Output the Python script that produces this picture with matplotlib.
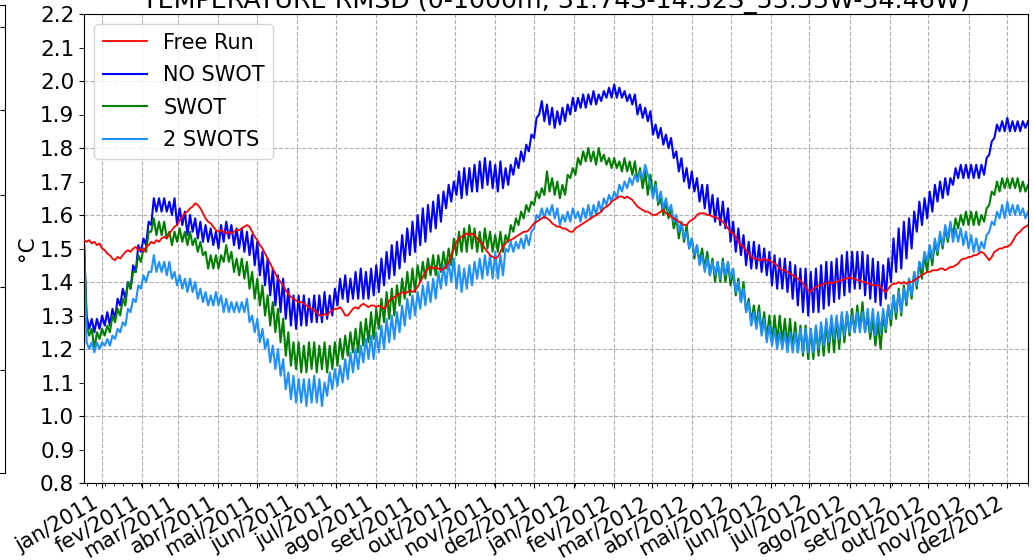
import matplotlib

matplotlib.use("Agg")
import matplotlib.pyplot as plt  # noqa: E402
import matplotlib.dates as mdates  # noqa: E402
import pandas as pd  # noqa: E402
from matplotlib.ticker import FormatStrFormatter, FuncFormatter, MultipleLocator  # noqa: E402

TITLE = "TEMPERATURE RMSD (0-1000m, 31.74S-14.32S_53.55W-34.46W)"
MONTHS_PT = ["jan", "fev", "mar", "abr", "mai", "jun", "jul", "ago", "set", "out", "nov", "dez"]

# values every 2 days starting 2010-12-18 (one line = 30 days)
free_run = [
    1.525, 1.52, 1.525, 1.515, 1.52, 1.51, 1.515, 1.50, 1.495, 1.485, 1.48, 1.47, 1.465, 1.475, 1.47,
    1.48, 1.49, 1.495, 1.49, 1.50, 1.505, 1.495, 1.50, 1.49, 1.505, 1.51, 1.52, 1.515, 1.525, 1.52,
    1.53, 1.535, 1.53, 1.545, 1.555, 1.565, 1.57, 1.585, 1.595, 1.605, 1.61, 1.62, 1.625, 1.635, 1.63,
    1.62, 1.605, 1.59, 1.58, 1.575, 1.565, 1.555, 1.55, 1.555, 1.55, 1.545, 1.55, 1.545, 1.55, 1.555,
    1.555, 1.56, 1.565, 1.57, 1.565, 1.55, 1.535, 1.525, 1.51, 1.50, 1.485, 1.47, 1.455, 1.44, 1.425,
    1.41, 1.40, 1.39, 1.375, 1.365, 1.355, 1.35, 1.345, 1.34, 1.34, 1.335, 1.33, 1.325, 1.32, 1.315,
    1.31, 1.30, 1.30, 1.305, 1.30, 1.31, 1.315, 1.32, 1.32, 1.325, 1.315, 1.30, 1.30, 1.31, 1.32,
    1.325, 1.32, 1.33, 1.335, 1.33, 1.325, 1.33, 1.33, 1.325, 1.33, 1.325, 1.32, 1.33, 1.345, 1.35,
    1.355, 1.36, 1.365, 1.37, 1.365, 1.37, 1.375, 1.37, 1.375, 1.385, 1.40, 1.415, 1.43, 1.44, 1.445,
    1.44, 1.445, 1.44, 1.435, 1.44, 1.445, 1.46, 1.48, 1.50, 1.52, 1.53, 1.535, 1.54, 1.545, 1.54,
    1.545, 1.54, 1.53, 1.52, 1.515, 1.50, 1.49, 1.48, 1.475, 1.47, 1.475, 1.49, 1.505, 1.515, 1.525,
    1.525, 1.53, 1.535, 1.54, 1.545, 1.55, 1.55, 1.555, 1.565, 1.575, 1.58, 1.585, 1.59, 1.595, 1.59,
    1.585, 1.575, 1.57, 1.565, 1.565, 1.56, 1.56, 1.555, 1.55, 1.55, 1.56, 1.565, 1.57, 1.575, 1.58,
    1.585, 1.59, 1.595, 1.60, 1.605, 1.61, 1.62, 1.625, 1.63, 1.64, 1.645, 1.65, 1.655, 1.655, 1.65,
    1.655, 1.65, 1.645, 1.635, 1.625, 1.62, 1.615, 1.61, 1.61, 1.605, 1.60, 1.60, 1.605, 1.61, 1.615,
    1.605, 1.60, 1.595, 1.59, 1.585, 1.58, 1.575, 1.57, 1.57, 1.58, 1.585, 1.59, 1.60, 1.605, 1.605,
    1.605, 1.60, 1.60, 1.595, 1.595, 1.59, 1.585, 1.58, 1.57, 1.56, 1.55, 1.545, 1.535, 1.52, 1.51,
    1.505, 1.495, 1.485, 1.475, 1.47, 1.47, 1.465, 1.465, 1.47, 1.465, 1.465, 1.46, 1.455, 1.45, 1.44,
    1.435, 1.435, 1.43, 1.425, 1.42, 1.415, 1.41, 1.405, 1.395, 1.385, 1.375, 1.37, 1.38, 1.385, 1.39,
    1.39, 1.395, 1.395, 1.40, 1.395, 1.40, 1.40, 1.405, 1.405, 1.41, 1.41, 1.415, 1.41, 1.41, 1.405,
    1.405, 1.40, 1.40, 1.395, 1.395, 1.39, 1.39, 1.39, 1.385, 1.375, 1.37, 1.38, 1.39, 1.395, 1.395,
    1.40, 1.395, 1.40, 1.395, 1.40, 1.40, 1.405, 1.41, 1.415, 1.42, 1.425, 1.43, 1.43, 1.435, 1.435,
    1.435, 1.44, 1.44, 1.435, 1.44, 1.445, 1.445, 1.45, 1.455, 1.465, 1.47, 1.47, 1.475, 1.475, 1.48,
    1.48, 1.485, 1.49, 1.485, 1.475, 1.465, 1.475, 1.49, 1.495, 1.50, 1.50, 1.505, 1.505, 1.51, 1.52,
    1.535, 1.545, 1.55, 1.56, 1.565, 1.57,
]

no_swot = [
    1.52, 1.30, 1.26, 1.29, 1.25, 1.29, 1.26, 1.30, 1.27, 1.31, 1.27, 1.32, 1.29, 1.35, 1.33,
    1.38, 1.35, 1.40, 1.38, 1.45, 1.43, 1.51, 1.49, 1.53, 1.51, 1.58, 1.57, 1.65, 1.61, 1.65,
    1.61, 1.65, 1.61, 1.64, 1.60, 1.65, 1.57, 1.62, 1.57, 1.61, 1.54, 1.60, 1.55, 1.59, 1.53,
    1.58, 1.52, 1.57, 1.52, 1.56, 1.51, 1.55, 1.50, 1.57, 1.52, 1.58, 1.53, 1.57, 1.51, 1.56,
    1.50, 1.56, 1.49, 1.55, 1.48, 1.54, 1.45, 1.52, 1.42, 1.49, 1.39, 1.47, 1.36, 1.44, 1.33,
    1.42, 1.31, 1.41, 1.29, 1.38, 1.27, 1.36, 1.26, 1.36, 1.27, 1.36, 1.27, 1.35, 1.28, 1.36,
    1.28, 1.36, 1.28, 1.37, 1.29, 1.36, 1.30, 1.38, 1.33, 1.41, 1.35, 1.42, 1.34, 1.41, 1.35,
    1.43, 1.35, 1.44, 1.35, 1.43, 1.35, 1.44, 1.36, 1.45, 1.37, 1.47, 1.39, 1.49, 1.41, 1.51,
    1.42, 1.52, 1.44, 1.54, 1.46, 1.56, 1.48, 1.58, 1.49, 1.60, 1.51, 1.62, 1.52, 1.63, 1.55,
    1.64, 1.56, 1.66, 1.58, 1.67, 1.62, 1.69, 1.64, 1.70, 1.66, 1.73, 1.65, 1.74, 1.66, 1.74,
    1.67, 1.75, 1.67, 1.76, 1.68, 1.77, 1.69, 1.76, 1.68, 1.75, 1.67, 1.76, 1.68, 1.74, 1.69,
    1.75, 1.72, 1.77, 1.74, 1.79, 1.76, 1.81, 1.79, 1.84, 1.83, 1.89, 1.90, 1.94, 1.88, 1.93,
    1.87, 1.92, 1.86, 1.91, 1.87, 1.92, 1.88, 1.93, 1.90, 1.95, 1.91, 1.95, 1.92, 1.96, 1.92,
    1.96, 1.93, 1.97, 1.93, 1.96, 1.94, 1.97, 1.95, 1.98, 1.95, 1.99, 1.95, 1.98, 1.95, 1.97,
    1.94, 1.96, 1.93, 1.96, 1.90, 1.93, 1.89, 1.92, 1.88, 1.91, 1.84, 1.87, 1.83, 1.86, 1.81,
    1.84, 1.80, 1.83, 1.77, 1.79, 1.73, 1.77, 1.70, 1.74, 1.68, 1.73, 1.67, 1.71, 1.64, 1.69,
    1.62, 1.69, 1.60, 1.66, 1.58, 1.65, 1.57, 1.64, 1.56, 1.62, 1.52, 1.58, 1.49, 1.56, 1.48,
    1.54, 1.45, 1.52, 1.44, 1.52, 1.44, 1.51, 1.43, 1.50, 1.42, 1.49, 1.39, 1.48, 1.38, 1.47,
    1.38, 1.47, 1.37, 1.46, 1.35, 1.45, 1.33, 1.44, 1.31, 1.44, 1.30, 1.43, 1.31, 1.44, 1.31,
    1.45, 1.32, 1.46, 1.33, 1.46, 1.34, 1.47, 1.35, 1.48, 1.36, 1.49, 1.37, 1.49, 1.38, 1.49,
    1.38, 1.49, 1.36, 1.48, 1.35, 1.47, 1.34, 1.46, 1.33, 1.45, 1.35, 1.47, 1.40, 1.53, 1.43,
    1.56, 1.44, 1.58, 1.47, 1.59, 1.50, 1.61, 1.55, 1.64, 1.57, 1.65, 1.59, 1.67, 1.61, 1.69,
    1.64, 1.70, 1.65, 1.71, 1.66, 1.71, 1.69, 1.74, 1.71, 1.75, 1.71, 1.75, 1.71, 1.75, 1.71,
    1.75, 1.71, 1.75, 1.72, 1.77, 1.78, 1.82, 1.83, 1.87, 1.85, 1.88, 1.85, 1.89, 1.85, 1.88,
    1.85, 1.88, 1.85, 1.88, 1.86, 1.88,
]

swot = [
    1.52, 1.27, 1.24, 1.26, 1.20, 1.25, 1.23, 1.26, 1.24, 1.27, 1.25, 1.30, 1.28, 1.32, 1.30,
    1.35, 1.33, 1.40, 1.38, 1.43, 1.43, 1.48, 1.46, 1.50, 1.49, 1.55, 1.55, 1.59, 1.54, 1.58,
    1.54, 1.58, 1.53, 1.55, 1.51, 1.55, 1.52, 1.56, 1.52, 1.55, 1.51, 1.55, 1.51, 1.53, 1.49,
    1.52, 1.48, 1.49, 1.44, 1.48, 1.44, 1.48, 1.44, 1.48, 1.46, 1.51, 1.46, 1.49, 1.43, 1.47,
    1.42, 1.47, 1.41, 1.46, 1.38, 1.43, 1.35, 1.41, 1.33, 1.39, 1.30, 1.36, 1.27, 1.34, 1.25,
    1.32, 1.22, 1.29, 1.18, 1.25, 1.15, 1.22, 1.14, 1.22, 1.13, 1.21, 1.13, 1.22, 1.14, 1.22,
    1.13, 1.21, 1.14, 1.22, 1.13, 1.21, 1.14, 1.22, 1.15, 1.23, 1.17, 1.24, 1.18, 1.25, 1.19,
    1.26, 1.19, 1.28, 1.21, 1.29, 1.22, 1.31, 1.23, 1.32, 1.26, 1.35, 1.28, 1.37, 1.29, 1.38,
    1.30, 1.39, 1.33, 1.41, 1.35, 1.43, 1.36, 1.44, 1.37, 1.45, 1.40, 1.46, 1.41, 1.47, 1.42,
    1.48, 1.42, 1.48, 1.43, 1.49, 1.44, 1.50, 1.45, 1.53, 1.48, 1.55, 1.49, 1.56, 1.49, 1.57,
    1.50, 1.56, 1.49, 1.55, 1.49, 1.56, 1.50, 1.55, 1.49, 1.54, 1.49, 1.55, 1.49, 1.54, 1.52,
    1.57, 1.55, 1.59, 1.57, 1.61, 1.59, 1.63, 1.61, 1.64, 1.63, 1.67, 1.65, 1.68, 1.66, 1.73,
    1.67, 1.71, 1.66, 1.70, 1.65, 1.69, 1.66, 1.72, 1.71, 1.74, 1.72, 1.77, 1.75, 1.79, 1.76,
    1.80, 1.76, 1.79, 1.75, 1.80, 1.76, 1.78, 1.75, 1.77, 1.74, 1.77, 1.74, 1.76, 1.73, 1.77,
    1.73, 1.76, 1.72, 1.76, 1.70, 1.74, 1.68, 1.73, 1.66, 1.72, 1.66, 1.70, 1.63, 1.65, 1.60,
    1.64, 1.59, 1.62, 1.56, 1.59, 1.53, 1.58, 1.52, 1.57, 1.50, 1.53, 1.47, 1.51, 1.46, 1.50,
    1.44, 1.49, 1.42, 1.47, 1.40, 1.46, 1.40, 1.47, 1.40, 1.46, 1.39, 1.43, 1.36, 1.41, 1.34,
    1.40, 1.31, 1.35, 1.28, 1.33, 1.27, 1.33, 1.25, 1.31, 1.23, 1.30, 1.22, 1.30, 1.22, 1.30,
    1.22, 1.29, 1.21, 1.29, 1.20, 1.28, 1.19, 1.27, 1.18, 1.27, 1.17, 1.26, 1.17, 1.27, 1.18,
    1.27, 1.18, 1.28, 1.19, 1.29, 1.19, 1.29, 1.20, 1.30, 1.22, 1.31, 1.24, 1.32, 1.25, 1.33,
    1.26, 1.34, 1.25, 1.30, 1.23, 1.29, 1.21, 1.28, 1.20, 1.30, 1.25, 1.33, 1.27, 1.36, 1.29,
    1.38, 1.30, 1.39, 1.33, 1.41, 1.35, 1.43, 1.38, 1.46, 1.41, 1.48, 1.43, 1.50, 1.45, 1.52,
    1.48, 1.54, 1.50, 1.56, 1.52, 1.57, 1.54, 1.59, 1.56, 1.60, 1.57, 1.61, 1.57, 1.61, 1.57,
    1.61, 1.57, 1.60, 1.58, 1.62, 1.63, 1.67, 1.66, 1.70, 1.67, 1.71, 1.68, 1.71, 1.68, 1.71,
    1.68, 1.71, 1.67, 1.70, 1.67, 1.69,
]

two_swots = [
    1.50, 1.22, 1.20, 1.22, 1.19, 1.22, 1.20, 1.22, 1.21, 1.23, 1.21, 1.24, 1.23, 1.26, 1.25,
    1.28, 1.27, 1.32, 1.31, 1.35, 1.34, 1.39, 1.38, 1.42, 1.40, 1.43, 1.43, 1.48, 1.43, 1.46,
    1.43, 1.46, 1.42, 1.46, 1.41, 1.43, 1.39, 1.42, 1.38, 1.41, 1.37, 1.41, 1.37, 1.40, 1.35,
    1.38, 1.34, 1.37, 1.33, 1.36, 1.33, 1.37, 1.33, 1.36, 1.31, 1.35, 1.31, 1.34, 1.31, 1.34,
    1.31, 1.34, 1.31, 1.35, 1.28, 1.30, 1.25, 1.29, 1.22, 1.26, 1.20, 1.23, 1.16, 1.21, 1.14,
    1.20, 1.12, 1.17, 1.08, 1.13, 1.05, 1.12, 1.04, 1.11, 1.04, 1.11, 1.03, 1.11, 1.04, 1.12,
    1.04, 1.11, 1.03, 1.10, 1.06, 1.13, 1.08, 1.14, 1.09, 1.15, 1.10, 1.17, 1.11, 1.19, 1.13,
    1.20, 1.14, 1.21, 1.16, 1.23, 1.17, 1.24, 1.17, 1.25, 1.19, 1.27, 1.20, 1.29, 1.22, 1.30,
    1.23, 1.31, 1.25, 1.33, 1.27, 1.35, 1.29, 1.36, 1.30, 1.37, 1.32, 1.39, 1.33, 1.40, 1.34,
    1.41, 1.35, 1.43, 1.38, 1.45, 1.39, 1.46, 1.40, 1.47, 1.38, 1.45, 1.37, 1.44, 1.38, 1.45,
    1.39, 1.46, 1.41, 1.47, 1.41, 1.48, 1.42, 1.48, 1.41, 1.49, 1.41, 1.48, 1.42, 1.50, 1.49,
    1.52, 1.49, 1.52, 1.50, 1.53, 1.50, 1.54, 1.51, 1.55, 1.56, 1.60, 1.59, 1.62, 1.59, 1.62,
    1.60, 1.63, 1.59, 1.62, 1.57, 1.60, 1.58, 1.61, 1.58, 1.62, 1.59, 1.61, 1.58, 1.62, 1.59,
    1.63, 1.59, 1.63, 1.60, 1.64, 1.61, 1.65, 1.63, 1.66, 1.64, 1.67, 1.65, 1.69, 1.67, 1.70,
    1.68, 1.71, 1.69, 1.72, 1.70, 1.73, 1.71, 1.75, 1.72, 1.69, 1.65, 1.69, 1.64, 1.67, 1.62,
    1.65, 1.61, 1.63, 1.58, 1.60, 1.55, 1.58, 1.53, 1.55, 1.50, 1.53, 1.48, 1.51, 1.45, 1.48,
    1.43, 1.47, 1.42, 1.46, 1.42, 1.46, 1.41, 1.46, 1.42, 1.46, 1.41, 1.44, 1.37, 1.40, 1.34,
    1.38, 1.31, 1.34, 1.27, 1.31, 1.26, 1.31, 1.24, 1.29, 1.22, 1.27, 1.21, 1.26, 1.20, 1.25,
    1.20, 1.25, 1.19, 1.25, 1.19, 1.25, 1.19, 1.26, 1.19, 1.26, 1.19, 1.26, 1.19, 1.27, 1.20,
    1.28, 1.21, 1.29, 1.22, 1.30, 1.23, 1.30, 1.23, 1.31, 1.24, 1.31, 1.25, 1.30, 1.25, 1.31,
    1.25, 1.31, 1.25, 1.32, 1.25, 1.32, 1.24, 1.31, 1.25, 1.32, 1.26, 1.33, 1.29, 1.36, 1.31,
    1.37, 1.31, 1.38, 1.34, 1.41, 1.36, 1.43, 1.39, 1.46, 1.44, 1.49, 1.46, 1.51, 1.47, 1.53,
    1.49, 1.55, 1.51, 1.57, 1.53, 1.58, 1.52, 1.56, 1.52, 1.56, 1.51, 1.55, 1.50, 1.54, 1.49,
    1.53, 1.49, 1.52, 1.50, 1.54, 1.55, 1.58, 1.57, 1.61, 1.59, 1.63, 1.59, 1.64, 1.60, 1.63,
    1.60, 1.63, 1.60, 1.62, 1.59, 1.61,
]

dates = pd.date_range("2010-12-18", periods=len(free_run), freq="2D")

fig = plt.figure(figsize=(10.33, 5.6), dpi=100)

# right edge of the neighbouring panel, cut by the crop
ax0 = fig.add_axes([(4.7 - 200) / 1033, 87 / 560, 200 / 1033, 468 / 560])
ax0.set_xticks([])
ax0.set_ylim(0, 1)
ax0.yaxis.tick_right()
ax0.set_yticks([0.22, 0.398, 0.594, 0.776, 0.953])
ax0.tick_params(axis="y", direction="in", labelright=False)

ax = fig.add_axes([84 / 1033, 77 / 560, 944 / 1033, 469 / 560])
ax.plot(dates, no_swot, color="blue", lw=1.5, label="NO SWOT", zorder=2)
ax.plot(dates, swot, color="green", lw=1.5, label="SWOT", zorder=2)
ax.plot(dates, two_swots, color="dodgerblue", lw=1.5, label="2 SWOTS", zorder=2)
ax.plot(dates, free_run, color="red", lw=1.3, label="Free Run", zorder=3)

ax.set_xlim(dates[0], dates[-1])
ax.set_ylim(0.8, 2.2)
ax.yaxis.set_major_locator(MultipleLocator(0.2))
ax.yaxis.set_minor_locator(MultipleLocator(0.1))
ax.yaxis.set_major_formatter(FormatStrFormatter("%.1f"))
ax.yaxis.set_minor_formatter(FormatStrFormatter("%.1f"))

ax.xaxis.set_major_locator(mdates.MonthLocator())
ax.xaxis.set_minor_locator(mdates.WeekdayLocator(byweekday=0))
ax.xaxis.set_major_formatter(
    FuncFormatter(lambda v, pos: f"{MONTHS_PT[mdates.num2date(v).month - 1]}/{mdates.num2date(v).year}")
)
ax.tick_params(axis="y", which="both", labelsize=15.5)
ax.tick_params(axis="x", which="both", labelsize=15)
ax.tick_params(axis="y", which="minor", length=3.5)
plt.setp(ax.get_xticklabels(), rotation=30, ha="right")

ax.grid(True, which="major", ls="--", color="#b0b0b0", lw=0.8)
ax.set_ylabel("°C", fontsize=15.5)
ax.yaxis.set_label_coords(-0.05, 0.5)
ax.set_title(TITLE, fontsize=18.3, pad=4)

handles, labels = ax.get_legend_handles_labels()
order = [3, 0, 1, 2]
ax.legend([handles[i] for i in order], [labels[i] for i in order],
          loc="upper left", fontsize=15, labelspacing=0.6, handlelength=2.1)

fig.savefig("out.png", dpi=100)
